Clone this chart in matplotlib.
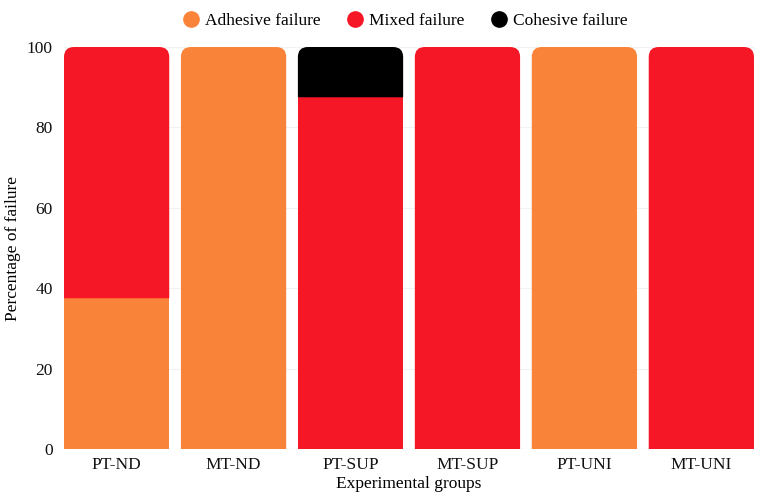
import matplotlib.pyplot as plt
from matplotlib.path import Path
from matplotlib.patches import PathPatch
from matplotlib.lines import Line2D

groups = ['PT-ND', 'MT-ND', 'PT-SUP', 'MT-SUP', 'PT-UNI', 'MT-UNI']
adhesive = [37.5, 100, 0, 0, 100, 0]
mixed = [62.5, 0, 87.5, 100, 0, 100]
cohesive = [0, 0, 12.5, 0, 0, 0]

series = [('Adhesive failure', adhesive, '#fa833a'),
          ('Mixed failure', mixed, '#f51726'),
          ('Cohesive failure', cohesive, '#000000')]

plt.rcParams['font.family'] = ['Liberation Serif', 'DejaVu Serif']

fig = plt.figure(figsize=(7.59, 4.98), dpi=100)
ax = fig.add_axes([0.0843, 0.0984, 0.9091, 0.8072])

width = 0.9
ax.set_xlim(-width / 2, len(groups) - 1 + width / 2)
ax.set_ylim(0, 100)

# corner radius in pixels converted to data units
px_x = 0.9091 * 759 / (len(groups) - 1 + width)
px_y = 0.8072 * 498 / 100
rx, ry = 10 / px_x, 10 / px_y


def top_rounded(x0, y0, w, h):
    x1, y1 = x0 + w, y0 + h
    verts = [(x0, y0), (x0, y1 - ry), (x0, y1), (x0 + rx, y1),
             (x1 - rx, y1), (x1, y1), (x1, y1 - ry), (x1, y0), (x0, y0)]
    codes = [Path.MOVETO, Path.LINETO, Path.CURVE3, Path.CURVE3,
             Path.LINETO, Path.CURVE3, Path.CURVE3, Path.LINETO, Path.CLOSEPOLY]
    return Path(verts, codes)


for i in range(len(groups)):
    bottom = 0
    segs = [(v[i], c) for _, v, c in series if v[i] > 0]
    for k, (val, col) in enumerate(segs):
        x0 = i - width / 2
        if k == len(segs) - 1:
            p = PathPatch(top_rounded(x0, bottom, width, val), facecolor=col,
                          edgecolor='none', zorder=2)
            ax.add_patch(p)
        else:
            ax.bar(i, val, width, bottom=bottom, color=col, zorder=2)
        bottom += val

ax.set_yticks(range(0, 101, 20))
ax.set_xticks(range(len(groups)))
ax.set_xticklabels(groups)
ax.grid(axis='y', color='#f2f2f2', linewidth=0.8, zorder=0)
for s in ax.spines.values():
    s.set_visible(False)
ax.axhline(0, color='#e6e6e6', linewidth=0.8, zorder=1)
ax.tick_params(length=0, labelsize=12.5, colors='#111111')
ax.tick_params(axis='y', pad=8)
ax.tick_params(axis='x', pad=6)
ax.set_xlabel('Experimental groups', fontsize=12.5, labelpad=2)
ax.set_ylabel('Percentage of failure', fontsize=12.5)
ax.yaxis.set_label_coords(-0.062, 0.5)

handles = [Line2D([], [], marker='o', linestyle='none', markersize=11,
                  markerfacecolor=c, markeredgecolor=c) for _, _, c in series]
fig.legend(handles, [n for n, _, _ in series], loc='upper center',
           bbox_to_anchor=(0.535, 1.005), ncol=3, frameon=False,
           fontsize=12.5, handlelength=0.8, handletextpad=0.4,
           columnspacing=1.6)

fig.savefig('out.png', dpi=100)
